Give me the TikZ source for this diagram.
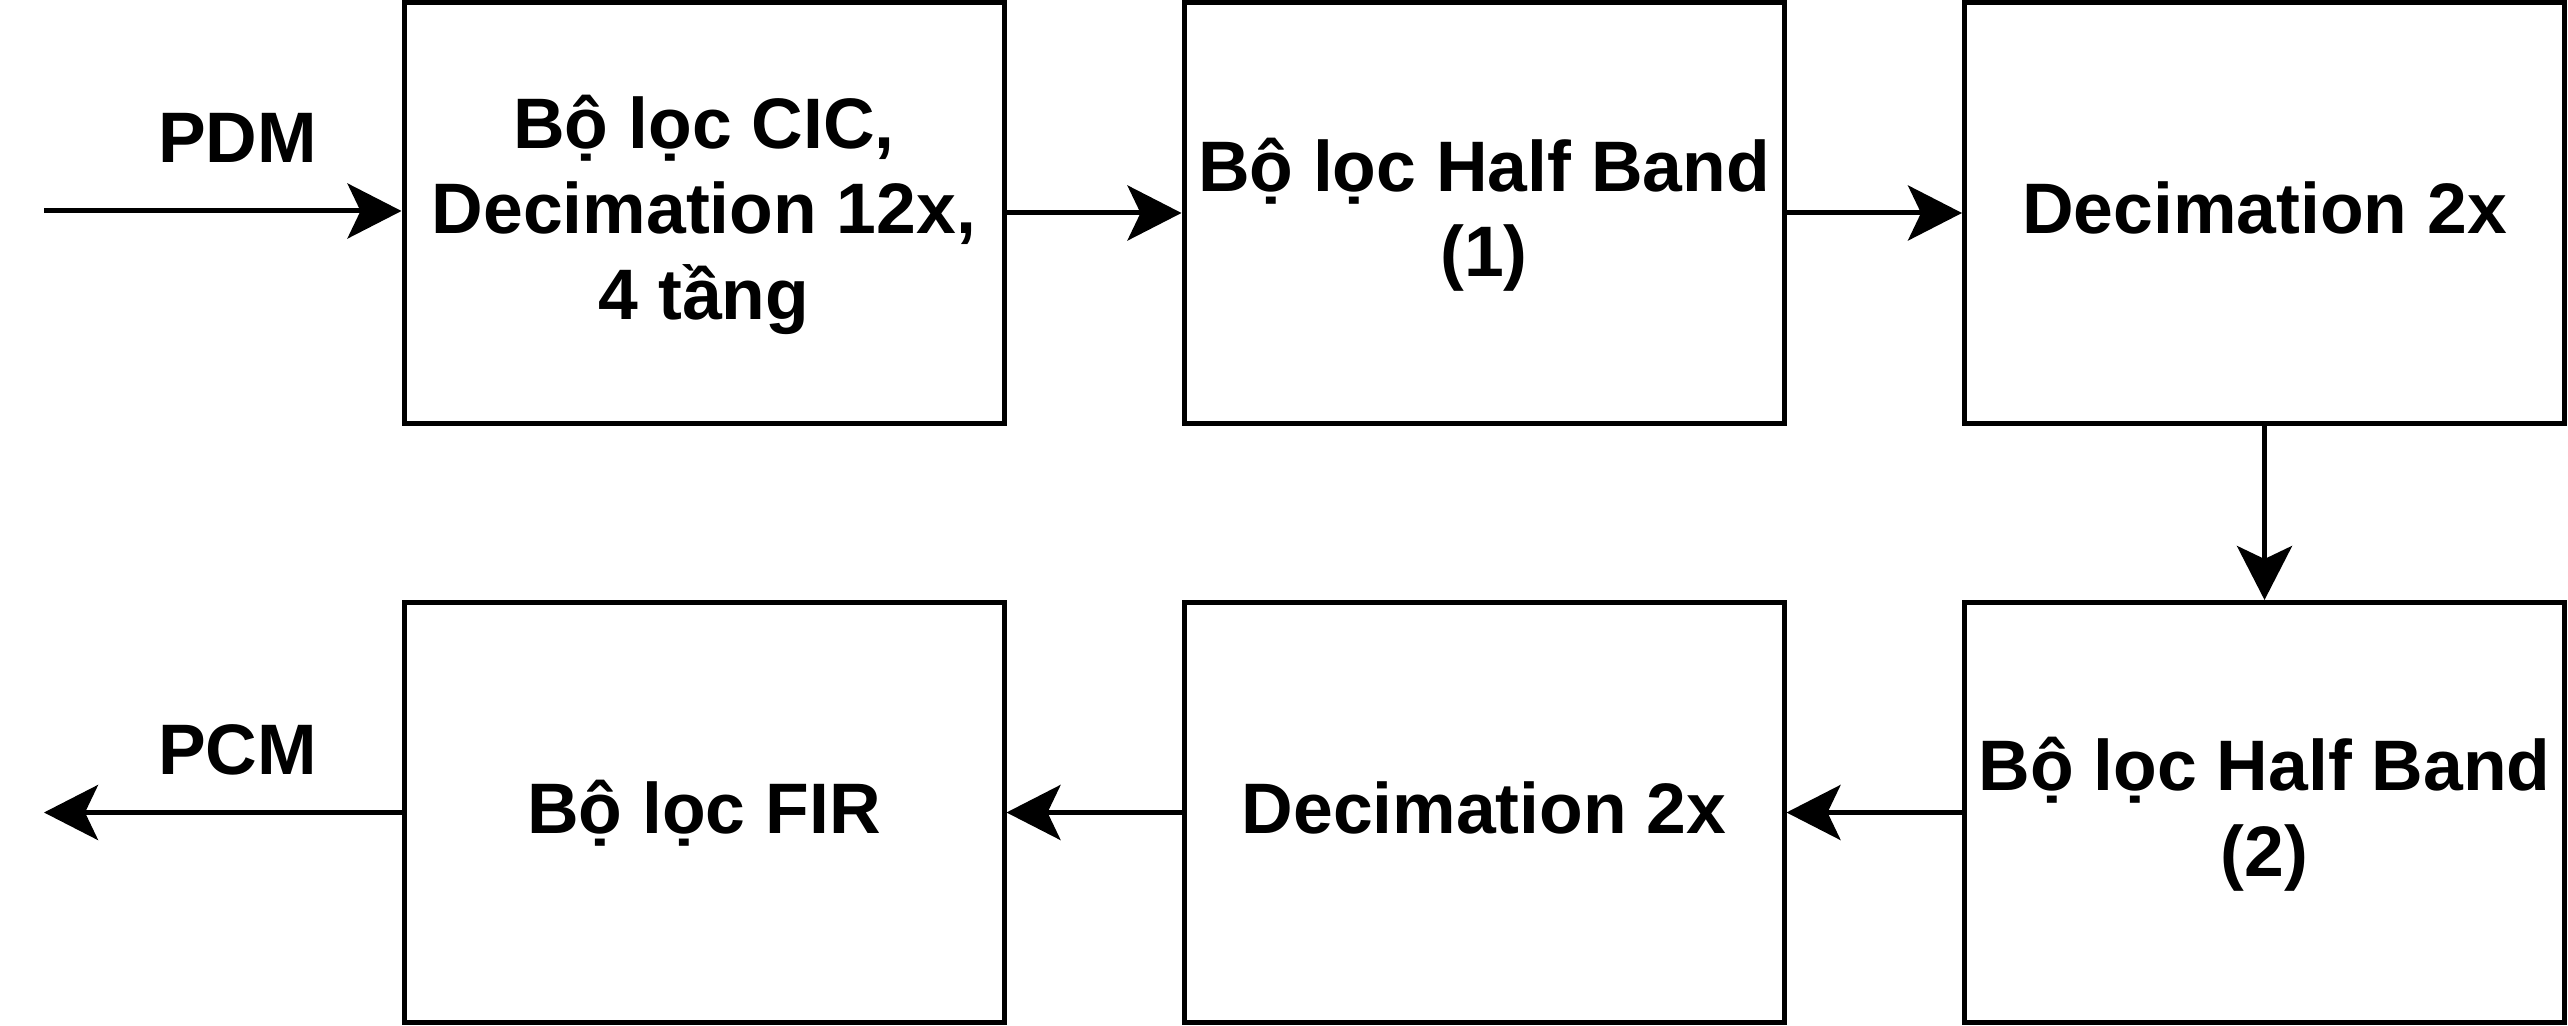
\documentclass[tikz,border=0pt]{standalone}
\usepackage{fontspec}
\setmainfont{Liberation Sans}
\usetikzlibrary{arrows.meta}
\newcommand\zs{\rule[-10.95pt]{0pt}{42.9pt}}
\tikzset{
  blk/.style={draw=black, line width=2.5pt, fill=white, minimum width=300pt, minimum height=210pt,
    align=center, inner sep=0pt, font=\fontsize{35.75}{42.9}\selectfont\bfseries},
  lbl/.style={inner sep=0pt, anchor=base, font=\fontsize{35.75}{42.9}\selectfont\bfseries},
  conn/.style={line width=2.5pt, -{Stealth[length=27pt, width=27.5pt, inset=6.5pt]}}
}
\begin{document}
\begin{tikzpicture}[x=0.5pt, y=-0.5pt]
\useasboundingbox (0,0) rectangle (2568,1026);
\node[blk] (cic) at (704,213) {\zs Bộ lọc CIC,\\\zs Decimation 12x,\\\zs 4 tầng};
\node[blk] (hb1) at (1484,213) {\zs Bộ lọc Half Band\\\zs (1)};
\node[blk] (dec1) at (2264.5,213) {\zs Decimation 2x};
\node[blk] (hb2) at (2264.5,812.5) {\zs Bộ lọc Half Band\\\zs (2)};
\node[blk] (dec2) at (1484,812.5) {\zs Decimation 2x};
\node[blk] (fir) at (704,812.5) {\zs Bộ lọc FIR};
\coordinate (in) at (44,211);
\coordinate (out) at (44,812.5);
\node[lbl] (pdm) at (237.7,162.3) {PDM};
\node[lbl] (pcm) at (237.7,774) {PCM};
\draw[conn] (in) -- (cic.west |- in);
\draw[conn] (cic) -- (hb1);
\draw[conn] (hb1) -- (dec1);
\draw[conn] (dec1) -- (hb2);
\draw[conn] (hb2) -- (dec2);
\draw[conn] (dec2) -- (fir);
\draw[conn] (fir) -- (out);
\end{tikzpicture}
\end{document}
